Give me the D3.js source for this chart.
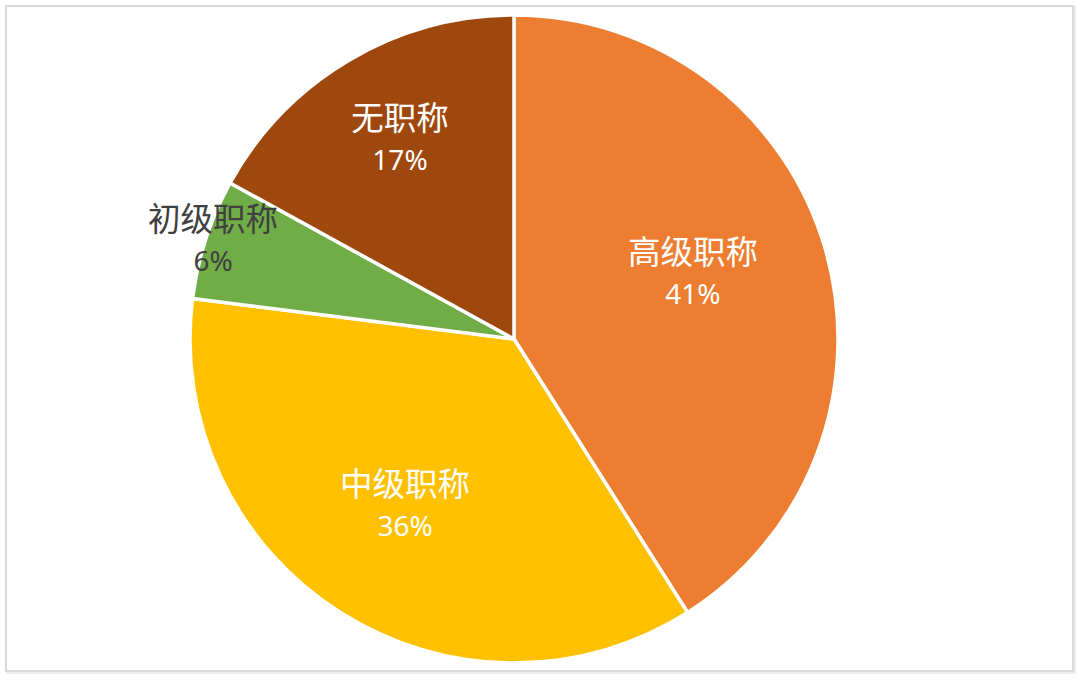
<!DOCTYPE html>
<html><head><meta charset="utf-8">
<script src="https://cdn.jsdelivr.net/npm/d3@7"></script>
<style>html,body{margin:0;padding:0;background:#fff;}svg{display:block;}</style>
</head><body>
<svg id="c" width="1080" height="681"></svg>
<script>
const categories = ["高级职称", "中级职称", "初级职称", "无职称"];
const values = [41, 36, 6, 17];
const percentLabels = ["41%", "36%", "6%", "17%"];
const colors = ["#ED7D31", "#FFC000", "#70AD47", "#9E480E"];

const svg = d3.select("#c");
// frame with soft shadow
svg.append("rect").attr("x", 7).attr("y", 7).attr("width", 1068).attr("height", 666)
  .attr("fill", "none").attr("stroke", "#ececec").attr("stroke-width", 2);
svg.append("rect").attr("x", 6).attr("y", 6).attr("width", 1067).attr("height", 665)
  .attr("fill", "#fff").attr("stroke", "#d9d9d9").attr("stroke-width", 2);

const cx = 514, cy = 339, R = 324;
const g = svg.append("g").attr("transform", `translate(${cx},${cy})`);
const pie = d3.pie().sort(null).value(d => d)(values);
const arc = d3.arc().innerRadius(0).outerRadius(R);

g.selectAll("path").data(pie).join("path")
  .attr("d", arc)
  .attr("fill", (d, i) => colors[i])
  .attr("stroke", "#fff").attr("stroke-width", 3.5).attr("stroke-linejoin", "round");

// label placement (radius factor, angular nudge in degrees)
const labelFactor = [0.588, 0.614, 0.977, 0.708];
const labelNudge = [-3.9, 0.8, 0.1, 0.8];
const textColor = ["#fff", "#fff", "#404040", "#fff"];
pie.forEach((d, i) => {
  const a = (d.startAngle + d.endAngle) / 2 + labelNudge[i] * Math.PI / 180;
  const r = R * labelFactor[i];
  const x = r * Math.sin(a), y = -r * Math.cos(a);
  g.append("text").attr("text-anchor", "middle")
    .attr("font-family", "'Noto Sans CJK SC', 'Noto Sans', sans-serif")
    .attr("fill", textColor[i])
    .attr("x", x).attr("y", y - 9.5).attr("font-size", 32.5).text(categories[i]);
  g.append("text").attr("text-anchor", "middle")
    .attr("font-family", "'Noto Sans', 'Noto Sans CJK SC', sans-serif")
    .attr("fill", textColor[i])
    .attr("x", x).attr("y", y + 30.5).attr("font-size", 28).text(percentLabels[i]);
});
</script>
</body></html>
